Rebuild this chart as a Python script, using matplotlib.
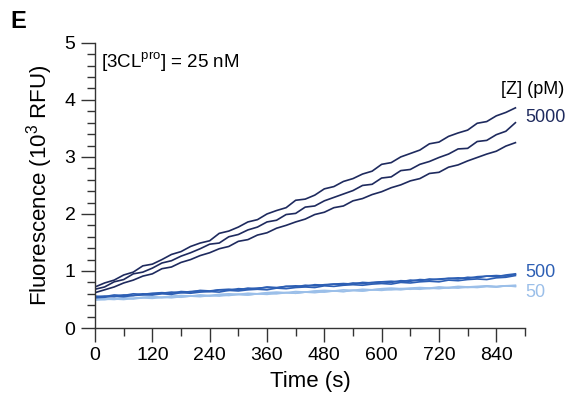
import numpy as np
import matplotlib
matplotlib.use('Agg')
import matplotlib.pyplot as plt
from matplotlib.ticker import MultipleLocator

plt.rcParams['font.family'] = ['Liberation Sans', 'DejaVu Sans']
plt.rcParams['mathtext.fontset'] = 'custom'
plt.rcParams['mathtext.rm'] = 'Liberation Sans'

# time step between reads (s)
step = 20

# [Z] = 5000 pM, three replicates
z5000_a = [0.72, 0.79, 0.84, 0.93, 0.98, 1.09, 1.12, 1.20, 1.29, 1.34, 1.43, 1.49, 1.53, 1.66, 1.70,
           1.77, 1.86, 1.90, 2.00, 2.06, 2.11, 2.24, 2.26, 2.33, 2.44, 2.48, 2.57, 2.62, 2.70, 2.75,
           2.87, 2.90, 3.00, 3.06, 3.12, 3.23, 3.26, 3.36, 3.42, 3.47, 3.59, 3.62, 3.72, 3.78, 3.86]
z5000_b = [0.68, 0.72, 0.81, 0.85, 0.95, 0.98, 1.05, 1.14, 1.18, 1.26, 1.32, 1.39, 1.47, 1.49, 1.60,
           1.64, 1.72, 1.77, 1.86, 1.89, 1.99, 2.01, 2.12, 2.14, 2.23, 2.29, 2.35, 2.41, 2.50, 2.52,
           2.63, 2.65, 2.76, 2.78, 2.87, 2.92, 2.99, 3.05, 3.14, 3.15, 3.27, 3.29, 3.39, 3.45, 3.60]
z5000_c = [0.62, 0.67, 0.72, 0.79, 0.84, 0.91, 0.95, 1.04, 1.07, 1.15, 1.20, 1.27, 1.32, 1.39, 1.43,
           1.52, 1.55, 1.63, 1.67, 1.75, 1.80, 1.86, 1.91, 1.99, 2.03, 2.11, 2.14, 2.23, 2.27, 2.34,
           2.39, 2.46, 2.51, 2.58, 2.62, 2.71, 2.73, 2.82, 2.86, 2.93, 2.99, 3.05, 3.10, 3.19, 3.25]

# [Z] = 500 pM
z500_a = [0.56, 0.55, 0.58, 0.57, 0.60, 0.59, 0.61, 0.62, 0.61, 0.64, 0.63, 0.66, 0.65, 0.67, 0.68,
          0.67, 0.70, 0.69, 0.72, 0.71, 0.73, 0.74, 0.73, 0.76, 0.75, 0.77, 0.78, 0.77, 0.80, 0.79,
          0.81, 0.82, 0.81, 0.84, 0.83, 0.86, 0.85, 0.87, 0.88, 0.87, 0.90, 0.91, 0.90, 0.93, 0.95]
z500_b = [0.54, 0.56, 0.55, 0.58, 0.57, 0.60, 0.59, 0.61, 0.63, 0.62, 0.64, 0.65, 0.64, 0.67, 0.66,
          0.69, 0.68, 0.70, 0.71, 0.70, 0.73, 0.72, 0.75, 0.74, 0.76, 0.77, 0.76, 0.79, 0.78, 0.80,
          0.81, 0.80, 0.83, 0.82, 0.85, 0.84, 0.86, 0.87, 0.86, 0.89, 0.88, 0.91, 0.92, 0.91, 0.94]
z500_c = [0.53, 0.54, 0.56, 0.55, 0.57, 0.58, 0.58, 0.60, 0.59, 0.62, 0.61, 0.63, 0.64, 0.63, 0.66,
          0.65, 0.67, 0.68, 0.67, 0.70, 0.69, 0.71, 0.72, 0.71, 0.74, 0.73, 0.75, 0.76, 0.75, 0.77,
          0.78, 0.77, 0.80, 0.79, 0.81, 0.82, 0.81, 0.84, 0.83, 0.85, 0.86, 0.85, 0.88, 0.89, 0.92]

# [Z] = 50 pM
z50_a = [0.51, 0.50, 0.52, 0.53, 0.52, 0.54, 0.55, 0.54, 0.56, 0.57, 0.56, 0.58, 0.57, 0.59, 0.60,
         0.59, 0.61, 0.60, 0.62, 0.63, 0.62, 0.64, 0.63, 0.65, 0.66, 0.65, 0.67, 0.66, 0.68, 0.67,
         0.69, 0.70, 0.69, 0.70, 0.71, 0.70, 0.72, 0.71, 0.73, 0.72, 0.73, 0.74, 0.73, 0.74, 0.75]
z50_b = [0.49, 0.50, 0.51, 0.50, 0.52, 0.53, 0.52, 0.54, 0.53, 0.55, 0.56, 0.55, 0.57, 0.56, 0.58,
         0.59, 0.58, 0.60, 0.59, 0.61, 0.62, 0.61, 0.63, 0.62, 0.64, 0.65, 0.64, 0.66, 0.65, 0.67,
         0.66, 0.68, 0.67, 0.69, 0.68, 0.70, 0.69, 0.71, 0.70, 0.72, 0.71, 0.73, 0.72, 0.74, 0.73]
z50_c = [0.50, 0.51, 0.50, 0.52, 0.51, 0.53, 0.54, 0.53, 0.55, 0.54, 0.56, 0.57, 0.56, 0.58, 0.57,
         0.59, 0.58, 0.60, 0.61, 0.60, 0.62, 0.61, 0.63, 0.64, 0.63, 0.65, 0.64, 0.66, 0.65, 0.67,
         0.68, 0.67, 0.69, 0.68, 0.70, 0.69, 0.71, 0.70, 0.72, 0.71, 0.72, 0.73, 0.72, 0.74, 0.73]

groups = [
    ("50", "#9bbfe9", [z50_a, z50_b, z50_c]),
    ("500", "#2d5fb4", [z500_a, z500_b, z500_c]),
    ("5000", "#1e2a5e", [z5000_a, z5000_b, z5000_c]),
]

xticks = [0, 120, 240, 360, 480, 600, 720, 840]

fig = plt.figure(figsize=(5.7, 4.08), dpi=100)
ax = fig.add_axes([0.1667, 0.196, 0.7543, 0.699])

for name, color, reps in groups:
    for v in reps:
        t = step * np.arange(len(v))
        ax.plot(t, v, color=color, lw=1.2)

ax.set_xlim(0, 900)
ax.set_ylim(0, 5)
ax.set_xticks(xticks)
ax.xaxis.set_minor_locator(MultipleLocator(60))
ax.yaxis.set_major_locator(MultipleLocator(1))
ax.yaxis.set_minor_locator(MultipleLocator(0.2))

for s in ['top', 'right']:
    ax.spines[s].set_visible(False)
for s in ['left', 'bottom']:
    ax.spines[s].set_color('#333333')
    ax.spines[s].set_linewidth(1.0)

ax.tick_params(which='major', length=10, width=1.0, color='#333333', labelsize=14, pad=4)
ax.tick_params(which='minor', length=5.5, width=1.0, color='#333333')

ax.set_xlabel("Time (s)", fontsize=16, labelpad=5)
ax.set_ylabel(r"Fluorescence (10$^{3}$ RFU)", fontsize=16, labelpad=7)

ax.text(0.013, 0.933, r"[3CL$^{\mathregular{pro}}$] = 25 nM", transform=ax.transAxes,
        fontsize=13.5, va='center', ha='left')

fig.text(0.99, 0.78, "[Z] (pM)", fontsize=13, ha='right', va='center')
fig.text(0.922, 0.711, "5000", fontsize=13, ha='left', va='center', color="#1e2a5e")
fig.text(0.922, 0.331, "500", fontsize=13, ha='left', va='center', color="#2d5fb4")
fig.text(0.922, 0.284, "50", fontsize=13, ha='left', va='center', color="#9bbfe9")

fig.text(0.018, 0.975, "E", fontsize=17, fontweight='bold', ha='left', va='top')

fig.savefig("out.png", dpi=100)
